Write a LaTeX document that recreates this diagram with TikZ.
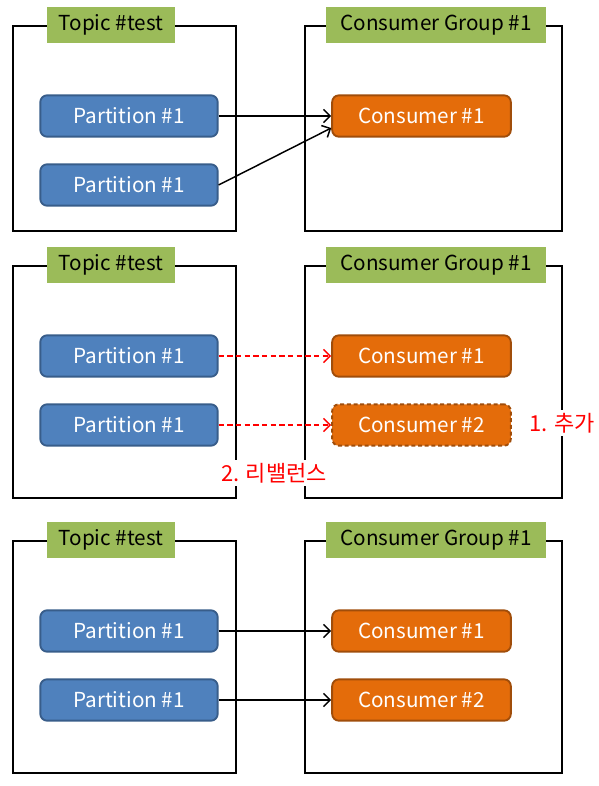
\documentclass[tikz,border=0pt]{standalone}
\usepackage{fontspec}
\setmainfont{Noto Sans CJK KR}
\usetikzlibrary{arrows.meta}

\definecolor{partblue}{HTML}{4F81BD}
\definecolor{partedge}{HTML}{385D8A}
\definecolor{consorange}{HTML}{E46C0A}
\definecolor{consedge}{HTML}{A04D0A}
\definecolor{titlegreen}{HTML}{9BBB59}

\begin{document}
\begin{tikzpicture}[x=0.75pt, y=-0.75pt, every node/.style={font=\fontsize{15.5pt}{18pt}\selectfont}, >={Straight Barb[length=5pt, width=10pt]},
	frame/.style={draw, line width=1.4pt, minimum width=#1*0.75pt, anchor=north},
	title/.style={fill=titlegreen, minimum height=27pt, inner sep=0pt, text height=0.85em, text depth=0pt},
	part/.style={draw=partedge, fill=partblue, line width=1.4pt, rounded corners=5pt, text=white, minimum width=133pt, minimum height=31pt, inner sep=0pt},
	cons/.style={draw=consedge, fill=consorange, line width=1.4pt, rounded corners=5pt, text=white, minimum width=134pt, minimum height=31pt, inner sep=0pt},
	link/.style={->, line width=1.1pt},
	moved/.style={->, line width=1.1pt, red, dashed, dash pattern=on 4pt off 2.5pt},
	note/.style={text=red, fill=white, inner sep=2pt, font=\fontsize{16.5pt}{19pt}\selectfont}]
	\useasboundingbox (0,0) rectangle (599,786);
	% 1: one consumer reads both partitions
	\node[frame=223, minimum height=153.75pt] (topicA) at (124.5,25) {};
	\node[frame=257, minimum height=153.75pt] (groupA) at (433.5,25) {};
	\node[title, minimum width=96pt] (topicAt) at (111,25) {Topic \#test};
	\node[title, minimum width=165pt] (groupAt) at (436,25) {Consumer Group \#1};
	\node[part] (pA1) at (129,116) {Partition \#1};
	\node[part] (pA2) at (129,185) {Partition \#1};
	\node[cons] (cA1) at (421.5,116) {Consumer \#1};
	\draw[link] (pA1.east) -- (cA1.west);
	\draw[link] (pA2.east) -- ([yshift=-9pt]cA1.west);
	% 2: a consumer joins, rebalance
	\node[frame=223, minimum height=174pt] (topicB) at (124.5,265) {};
	\node[frame=257, minimum height=174pt] (groupB) at (433.5,265) {};
	\node[title, minimum width=96pt] (topicBt) at (111,265) {Topic \#test};
	\node[title, minimum width=165pt] (groupBt) at (436,265) {Consumer Group \#1};
	\node[part] (pB1) at (129,356) {Partition \#1};
	\node[part] (pB2) at (129,425) {Partition \#1};
	\node[cons] (cB1) at (421.5,356) {Consumer \#1};
	\node[cons, dashed, dash pattern=on 3pt off 2pt] (cB2) at (421.5,425) {Consumer \#2};
	\draw[moved] (pB1.east) -- (cB1.west);
	\draw[moved] (pB2.east) -- (cB2.west);
	\node[note] (added) at (562,423) {1. 추가};
	\node[note] (rebal) at (274,473) {2. 리밸런스};
	% 3: after rebalance
	\node[frame=223, minimum height=174pt] (topicC) at (124.5,540) {};
	\node[frame=257, minimum height=174pt] (groupC) at (433.5,540) {};
	\node[title, minimum width=96pt] (topicCt) at (111,540) {Topic \#test};
	\node[title, minimum width=165pt] (groupCt) at (436,540) {Consumer Group \#1};
	\node[part] (pC1) at (129,631) {Partition \#1};
	\node[part] (pC2) at (129,700) {Partition \#1};
	\node[cons] (cC1) at (421.5,631) {Consumer \#1};
	\node[cons] (cC2) at (421.5,700) {Consumer \#2};
	\draw[link] (pC1.east) -- (cC1.west);
	\draw[link] (pC2.east) -- (cC2.west);
\end{tikzpicture}
\end{document}
